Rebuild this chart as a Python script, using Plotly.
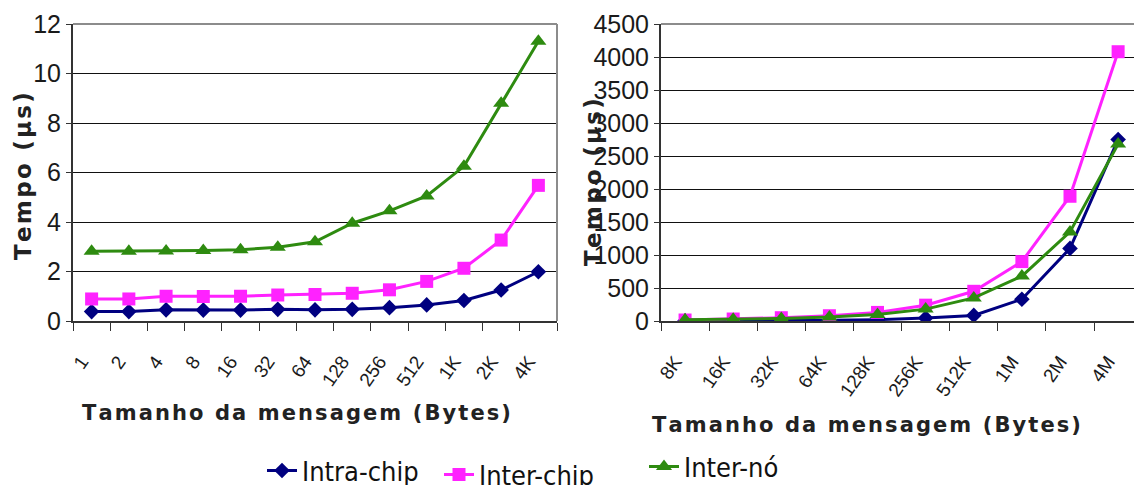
import plotly.graph_objects as go

# Message sizes
small_sizes = ["1", "2", "4", "8", "16", "32", "64", "128", "256", "512", "1K", "2K", "4K"]
large_sizes = ["8K", "16K", "32K", "64K", "128K", "256K", "512K", "1M", "2M", "4M"]

# Latency (µs) for small messages
intra_small = [0.38, 0.38, 0.45, 0.44, 0.44, 0.47, 0.45, 0.47, 0.54, 0.65, 0.83, 1.25, 1.99]
inter_chip_small = [0.89, 0.89, 1.0, 0.99, 1.0, 1.05, 1.07, 1.12, 1.26, 1.6, 2.13, 3.27, 5.48]
inter_node_small = [2.82, 2.82, 2.83, 2.85, 2.88, 2.98, 3.2, 3.95, 4.45, 5.05, 6.25, 8.8, 11.3]

# Latency (µs) for large messages
intra_large = [2, 3, 5, 10, 20, 45, 85, 330, 1100, 2750]
inter_chip_large = [15, 30, 50, 80, 130, 240, 450, 900, 1890, 4080]
inter_node_large = [20, 25, 38, 60, 100, 180, 350, 680, 1350, 2680]

series_names = ["Intra-chip", "Inter-chip", "Inter-nó"]
colors = ["#000080", "#FF22FF", "#2E8B10"]
symbols = ["diamond", "square", "triangle-up"]
msizes = [12, 13, 14]
legend_ids = ["legend", "legend2", "legend3"]

fig = go.Figure()

small_data = [intra_small, inter_chip_small, inter_node_small]
large_data = [intra_large, inter_chip_large, inter_node_large]

for i in range(3):
    fig.add_trace(go.Scatter(
        x=small_sizes, y=small_data[i], name=series_names[i],
        mode="lines+markers", xaxis="x", yaxis="y",
        line=dict(color=colors[i], width=3),
        marker=dict(symbol=symbols[i], size=msizes[i], color=colors[i]),
        showlegend=True, legend=legend_ids[i],
    ))
for i in range(3):
    fig.add_trace(go.Scatter(
        x=large_sizes, y=large_data[i], name=series_names[i],
        mode="lines+markers", xaxis="x2", yaxis="y2",
        line=dict(color=colors[i], width=3),
        marker=dict(symbol=symbols[i], size=msizes[i], color=colors[i]),
        showlegend=False,
    ))

NARROW = "Liberation Sans Narrow, Liberation Sans, sans-serif"
tick_font = dict(family=NARROW, size=25, color="#1a1a1a")
xtick_font = dict(family=NARROW, size=19, color="#1a1a1a")

axis_common = dict(showline=True, linecolor="#333", linewidth=2, mirror=False, zeroline=False)

Y0, Y1 = 1 - 321 / 485, 1 - 24 / 485

xaxis_style = dict(
    type="category", tickson="boundaries", ticks="outside", ticklen=8,
    tickcolor="#333", tickangle=-55, tickfont=xtick_font,
    ticklabelstandoff=20, ticklabelshift=-10,
    showgrid=False, **axis_common,
)
yaxis_style = dict(
    ticks="outside", ticklen=5, tickcolor="#333",
    showgrid=True, gridcolor="#111", gridwidth=1,
    tickfont=tick_font, **axis_common,
)

fig.update_layout(
    width=1134, height=485,
    margin=dict(l=0, r=0, t=0, b=0, autoexpand=False),
    paper_bgcolor="white", plot_bgcolor="white",
    xaxis=dict(domain=[73 / 1134, 557 / 1134], anchor="y", range=[-0.5, 12.5], **xaxis_style),
    yaxis=dict(domain=[Y0, Y1], anchor="x", range=[0, 12], dtick=2, **yaxis_style),
    xaxis2=dict(domain=[661 / 1134, 1.0], anchor="y2", range=[-0.5, 9.33], **xaxis_style),
    yaxis2=dict(domain=[Y0, Y1], anchor="x2", range=[0, 4500], dtick=500, **yaxis_style),
)

legend_font = dict(family="DejaVu Sans Condensed, DejaVu Sans, sans-serif", size=27, color="#111")
legend_pos = [(262 / 1134, 1 - 471 / 485), (439 / 1134, 1 - 475 / 485), (644 / 1134, 1 - 467 / 485)]
for lid, (lx, ly) in zip(legend_ids, legend_pos):
    fig.update_layout({lid: dict(
        x=lx, y=ly, xanchor="left", yanchor="middle", orientation="h",
        font=legend_font, bgcolor="rgba(0,0,0,0)", itemwidth=30,
        borderwidth=0, tracegroupgap=0,
    )})

# gray frame on the top and right edges of each plot area
frame = dict(color="#8c8c8c", width=2)
fig.add_shape(type="line", xref="x domain", yref="y domain", x0=0, x1=1, y0=1, y1=1, line=frame)
fig.add_shape(type="line", xref="x domain", yref="y domain", x0=1, x1=1, y0=0, y1=1, line=frame)
fig.add_shape(type="line", xref="x2 domain", yref="y2 domain", x0=0, x1=1, y0=1, y1=1, line=frame)

HS = "\u200a"
def spaced(s):
    return HS.join(s)

title_font = dict(family="DejaVu Sans, sans-serif", size=23, color="#222")
xtitle_font = dict(family="DejaVu Sans, sans-serif", size=21, color="#222")
ytitle = "<b>" + spaced("Tempo (µs)") + "</b>"
xtitle = "<b>" + spaced("Tamanho da mensagem (Bytes)") + "</b>"

def title(text, cx, cy, font, angle=0):
    fig.add_annotation(text=text, xref="paper", yref="paper", x=cx / 1134, y=1 - cy / 485,
                       xanchor="center", yanchor="middle", textangle=angle,
                       showarrow=False, font=font)

title(ytitle, 23, 176, title_font, -90)
title(ytitle, 593, 182, title_font, -90)
title(xtitle, 296, 413, xtitle_font)
title(xtitle, 866, 425, xtitle_font)

fig.write_html("out.html")
